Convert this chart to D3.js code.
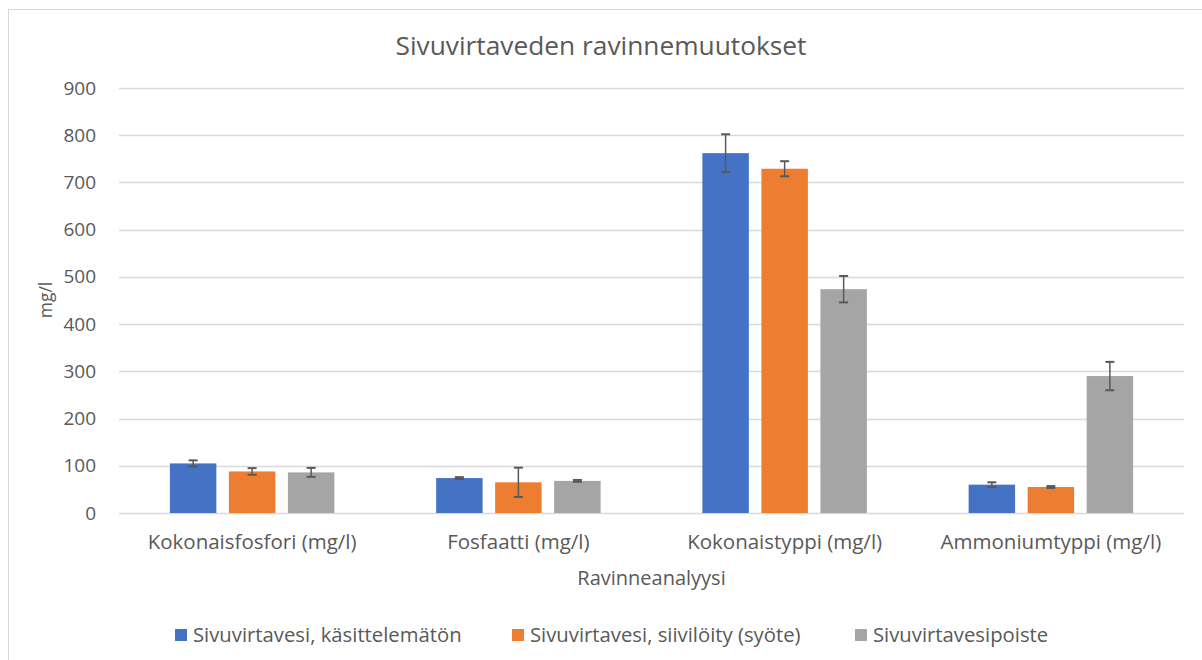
<!DOCTYPE html>
<html>
<head>
<meta charset="utf-8">
<script src="https://cdn.jsdelivr.net/npm/d3@7"></script>
<style>
  body { margin: 0; background: #fff; }
  text { font-family: "Open Sans", "Noto Sans", sans-serif; fill: #595959; }
</style>
</head>
<body>
<script>
const categories = ['Kokonaisfosfori (mg/l)', 'Fosfaatti (mg/l)', 'Kokonaistyppi (mg/l)', 'Ammoniumtyppi (mg/l)']
const seriesNames = ['Sivuvirtavesi, käsittelemätön', 'Sivuvirtavesi, siivilöity (syöte)', 'Sivuvirtavesipoiste']
const colors = ['#4472c4', '#ed7d31', '#a5a5a5']
const raw = [105, 74, 762, 60]
const sieved = [88, 65, 729, 55]
const effluent = [86, 68, 474, 290]
const rawErr = [6.5, 2, 40, 5]
const sievedErr = [7, 31, 16, 2]
const effluentErr = [9.5, 2, 28, 30]
const yTicks = [0, 100, 200, 300, 400, 500, 600, 700, 800, 900]

const values = [raw, sieved, effluent]
const errors = [rawErr, sievedErr, effluentErr]

const width = 1202, height = 660
const margin = { left: 119, right: 18, top: 88, bottom: 147 }

const svg = d3.select('body').append('svg')
    .attr('width', width)
    .attr('height', height)

// chart frame
svg.append('rect')
    .attr('x', 8.5).attr('y', 9.5)
    .attr('width', 1210).attr('height', 680)
    .attr('fill', 'none')
    .attr('stroke', '#d9d9d9')

const x = d3.scaleBand()
    .domain(categories)
    .range([margin.left, width - margin.right])

// excel style: gap width 219%, overlap -27%
const barW = x.bandwidth() / (3 + 2 * 0.27 + 2.19)
const step = barW * 1.27

const y = d3.scaleLinear()
    .domain([0, 900])
    .range([height - margin.bottom, margin.top])

// gridlines
svg.append('g')
    .selectAll('line')
    .data(yTicks)
    .enter().append('line')
      .attr('x1', margin.left)
      .attr('x2', width - margin.right)
      .attr('y1', d => Math.round(y(d)) + 0.5)
      .attr('y2', d => Math.round(y(d)) + 0.5)
      .attr('stroke', '#d9d9d9')
      .attr('stroke-width', 1.3)

// y axis labels
const yAxis = d3.axisLeft(y).tickValues(yTicks).tickSize(0).tickPadding(23)
svg.append('g')
    .attr('class', 'axis')
    .attr('transform', 'translate(' + margin.left + ',0)')
    .call(yAxis)
    .call(g => g.select('.domain').remove())
    .selectAll('text')
      .style('font-size', '19px')
      .attr('fill', '#595959')

// bars
const groups = svg.append('g')
    .selectAll('g')
    .data(values)
    .enter().append('g')
      .attr('fill', (d, i) => colors[i])

groups.each(function(series, si) {
  const g = d3.select(this)
  const cx = c => x(c) + x.bandwidth() / 2 + (si - 1) * step
  g.selectAll('rect')
    .data(categories)
    .enter().append('rect')
      .attr('x', (c) => cx(c) - barW / 2)
      .attr('width', barW)
      .attr('y', (c, ci) => y(series[ci]))
      .attr('height', (c, ci) => y(0) - y(series[ci]))

  // error bars
  const eg = g.append('g')
      .attr('stroke', '#595959')
      .attr('stroke-width', 1.5)
      .attr('fill', 'none')
  categories.forEach((c, ci) => {
    const v = series[ci], e = errors[si][ci]
    const px = cx(c)
    eg.append('line')
      .attr('x1', px).attr('x2', px)
      .attr('y1', y(v + e)).attr('y2', y(v - e))
    eg.append('line')
      .attr('x1', px - 4.5).attr('x2', px + 4.5)
      .attr('y1', y(v + e)).attr('y2', y(v + e))
      .attr('stroke-width', 2)
    eg.append('line')
      .attr('x1', px - 4.5).attr('x2', px + 4.5)
      .attr('y1', y(v - e)).attr('y2', y(v - e))
      .attr('stroke-width', 2)
  })
})

// x axis labels
const xAxis = d3.axisBottom(x).tickSize(0).tickPadding(21)
svg.append('g')
    .attr('transform', 'translate(0,' + y(0) + ')')
    .call(xAxis)
    .call(g => g.select('.domain').remove())
    .selectAll('text')
      .style('font-size', '20.5px')
      .attr('fill', '#595959')

// title
svg.append('text')
    .attr('x', width / 2)
    .attr('y', 55)
    .attr('text-anchor', 'middle')
    .style('font-size', '26.3px')
    .text('Sivuvirtaveden ravinnemuutokset')

// axis titles
svg.append('text')
    .attr('x', (margin.left + width - margin.right) / 2)
    .attr('y', 585)
    .attr('text-anchor', 'middle')
    .style('font-size', '20px')
    .text('Ravinneanalyysi')

svg.append('text')
    .attr('transform', 'translate(52,' + 300 + ') rotate(-90)')
    .attr('text-anchor', 'middle')
    .style('font-size', '17.5px')
    .text('mg/l')

// legend
const legendX = [175, 512, 855]
const legend = svg.append('g')
    .selectAll('g')
    .data(seriesNames)
    .enter().append('g')
      .attr('transform', (d, i) => 'translate(' + legendX[i] + ',629)')
legend.append('rect')
    .attr('width', 12).attr('height', 12)
    .attr('fill', (d, i) => colors[i])
legend.append('text')
    .attr('x', 18)
    .attr('y', 13)
    .style('font-size', '20.3px')
    .text(d => d)
</script>
</body>
</html>
